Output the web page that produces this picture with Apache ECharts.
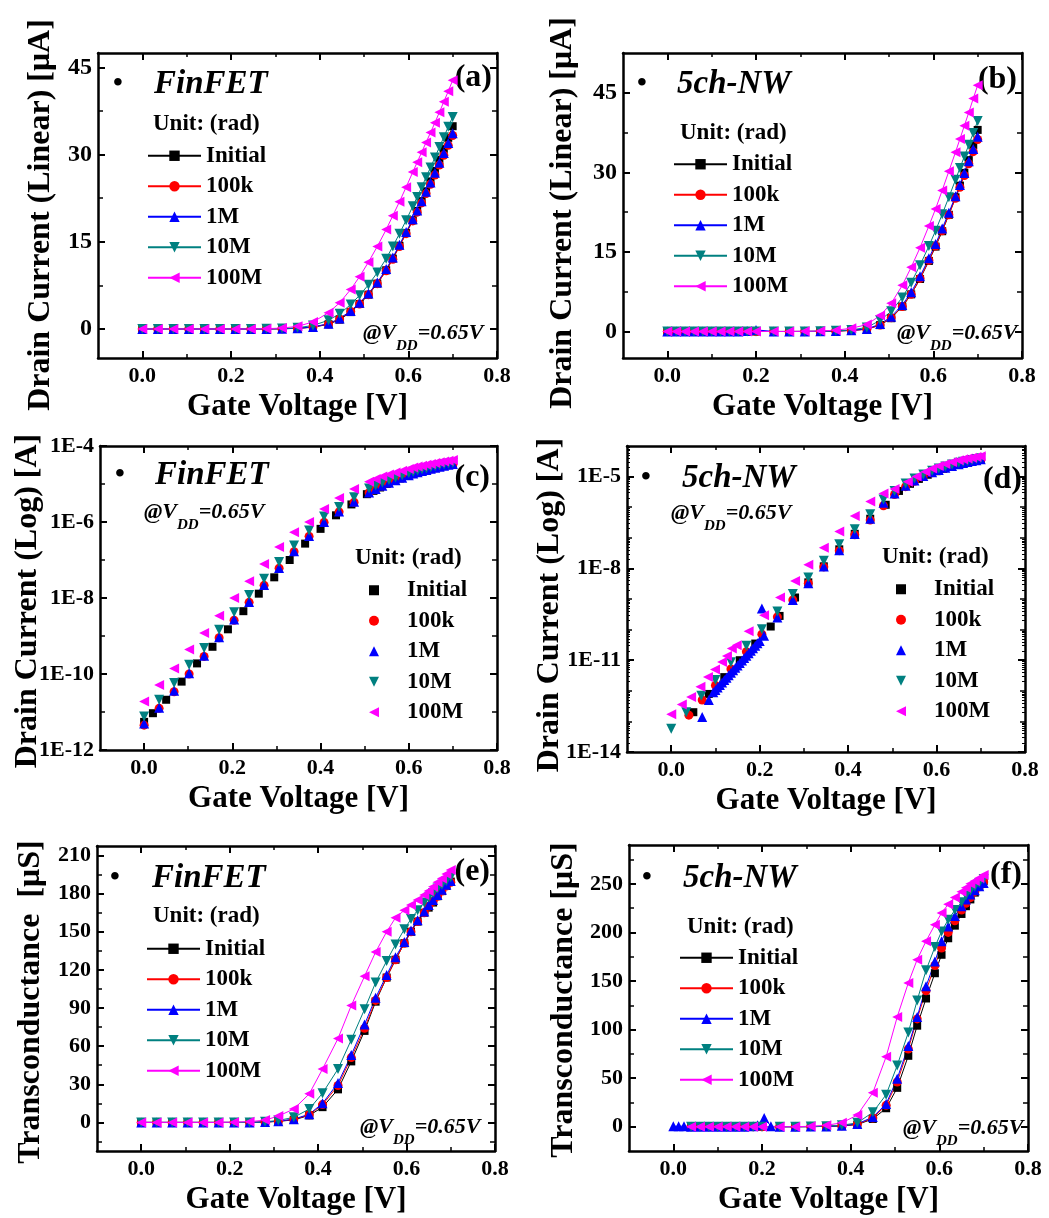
<!DOCTYPE html>
<html><head><meta charset="utf-8">
<script src="https://cdn.jsdelivr.net/npm/echarts@6/dist/echarts.min.js"></script>
<style>html,body{margin:0;padding:0;background:#fff}#c{width:1049px;height:1218px}</style>
</head><body><div id="c"></div>
<script>
// ---------- data ----------
const seriesNames = ['Initial','100k','1M','10M','100M'];
const xTicks = [0, 0.2, 0.4, 0.6, 0.8];
const xMinorTicks = [0.1, 0.3, 0.5, 0.7];
const aYTicks = [0, 15, 30, 45];
const aYMinor = [7.5, 22.5, 37.5];
const bYTicks = [0, 15, 30, 45];
const bYMinor = [7.5, 22.5, 37.5];
const cYTicks = [1e-12, 1e-10, 1e-8, 1e-6, 1e-4];
const cYMinor = [1e-11, 1e-9, 1e-7, 1e-5];
const dYTicks = [1e-14, 1e-11, 1e-8, 1e-5];
const dYMinor = [1e-13, 1e-12, 1e-10, 1e-9, 1e-7, 1e-6];
const dYDecades = [1e-14, 1e-13, 1e-12, 1e-11, 1e-10, 1e-9, 1e-8, 1e-7, 1e-6, 1e-5];
const dYSubSteps = [2, 3, 4, 5, 6, 7, 8, 9];
const eYTicks = [0, 30, 60, 90, 120, 150, 180, 210];
const eYMinor = [-15, 15, 45, 75, 105, 135, 165, 195];
const fYTicks = [0, 50, 100, 150, 200, 250];
const fYMinor = [25, 75, 125, 175, 225, 275];

// (a) FinFET, linear drain current [uA]
const xa = [0,0.035,0.07,0.105,0.14,0.175,0.21,0.245,0.28,0.315,0.35,0.385,0.42,0.445,0.47,0.49,0.51,0.53,0.55,0.565,0.58,0.595,0.61,0.62,0.63,0.64,0.65,0.66,0.67,0.68,0.69,0.70];
const aInitial = [0,0,0,0,0,0,0,0,0.01,0.04,0.1,0.3,0.8,1.6,2.9,4.3,5.9,7.8,10.1,12.1,14.3,16.5,18.7,20.3,22.0,23.7,25.4,27.2,29.1,31.0,32.9,34.9];
const a100k = [0,0,0,0,0,0,0,0,0.01,0.04,0.11,0.33,0.85,1.7,3.0,4.3,5.9,7.8,10.0,12.0,14.2,16.4,18.6,20.1,21.7,23.3,24.9,26.5,28.2,29.9,31.6,33.3];
const a1M = [0,0,0,0,0,0,0,0,0.01,0.04,0.11,0.35,0.9,1.8,3.1,4.5,6.1,8.0,10.3,12.3,14.5,16.7,18.9,20.4,22.0,23.6,25.2,26.9,28.6,30.3,32.0,33.7];
const a10M = [0,0,0,0,0,0,0,0,0.02,0.07,0.2,0.6,1.5,2.6,4.2,5.8,7.6,9.7,12.1,14.2,16.4,18.7,21.1,22.7,24.4,26.1,27.8,29.5,31.3,33.0,34.8,36.5];
const a100M = [0,0,0,0,0,0,0,0.01,0.05,0.15,0.45,1.2,2.8,4.5,6.8,9.0,11.5,14.2,17.1,19.5,21.9,24.4,27.0,28.7,30.4,32.1,33.8,35.5,37.3,39.1,40.9,42.8];

// (b) 5ch-NW, linear drain current [uA]
const xb = [0,0.02,0.04,0.06,0.08,0.10,0.12,0.14,0.16,0.18,0.20,0.24,0.275,0.31,0.345,0.38,0.415,0.45,0.48,0.505,0.53,0.55,0.57,0.59,0.605,0.62,0.635,0.65,0.66,0.67,0.68,0.69,0.70];
const bInitial = [0,0,0,0,0,0,0,0,0,0,0,0,0,0.01,0.03,0.08,0.2,0.45,1.2,2.5,4.7,7.0,9.9,13.3,16.0,18.9,22.0,25.3,27.5,29.9,32.3,35.1,38.0];
const b100k = [0,0,0,0,0,0,0,0,0,0,0,0,0,0.01,0.03,0.08,0.2,0.4,1.2,2.6,4.7,7.0,10.0,13.4,16.1,19.0,22.0,25.1,27.2,29.4,31.6,33.9,36.2];
const b1M = [0,0,0,0,0,0,0,0,0,0.1,0.3,0,0,0.01,0.03,0.09,0.22,0.45,1.4,2.8,5.0,7.4,10.4,13.8,16.5,19.4,22.4,25.5,27.6,29.9,32.1,34.4,36.7];
const b10M = [0,0,0,0,0,0,0,0,0,0,0,0,0,0.01,0.04,0.12,0.3,0.75,2.1,3.8,6.4,9.2,12.5,16.1,19.0,22.1,25.3,28.6,30.8,33.0,35.2,37.4,39.7];
const b100M = [0,0,0,0,0,0,0,0,0,0,0,0,0.01,0.03,0.08,0.25,0.6,1.3,3.0,5.3,8.7,12.1,15.8,19.9,23.1,26.6,30.2,33.8,36.3,38.8,41.3,43.9,46.4];

// (c) FinFET, log drain current [A]
const xcInitial = [0,0.02,0.05,0.085,0.12,0.155,0.19,0.225,0.26,0.295,0.33,0.365,0.40,0.435,0.47,0.505,0.52,0.535,0.55,0.565,0.58,0.595,0.61,0.625,0.64,0.655,0.67,0.685,0.70];
const cInitial = [5.5e-12,9.3e-12,2.1e-11,6.3e-11,1.9e-10,5.2e-10,1.5e-9,4.5e-9,1.3e-8,3.5e-8,1.0e-7,2.7e-7,6.6e-7,1.5e-6,2.9e-6,5.4e-6,6.6e-6,8.1e-6,1.0e-5,1.2e-5,1.4e-5,1.65e-5,1.87e-5,2.15e-5,2.37e-5,2.63e-5,2.91e-5,3.2e-5,3.49e-5];
const xc = [0,0.034,0.068,0.102,0.136,0.17,0.204,0.238,0.272,0.306,0.34,0.374,0.408,0.442,0.476,0.51,0.525,0.54,0.555,0.57,0.585,0.60,0.61,0.62,0.63,0.64,0.65,0.66,0.67,0.68,0.69,0.70];
const c100k = [4.5e-12,1.25e-11,3.4e-11,1.0e-10,2.9e-10,9.0e-10,2.6e-9,7.7e-9,2.15e-8,6.1e-8,1.65e-7,4.2e-7,9.8e-7,1.85e-6,3.3e-6,5.9e-6,7.3e-6,8.9e-6,1.06e-5,1.24e-5,1.45e-5,1.68e-5,1.86e-5,2.01e-5,2.17e-5,2.33e-5,2.49e-5,2.65e-5,2.82e-5,2.99e-5,3.16e-5,3.33e-5];
const c1M = [5.0e-12,1.3e-11,3.6e-11,1.05e-10,3.0e-10,9.3e-10,2.7e-9,7.9e-9,2.2e-8,6.2e-8,1.7e-7,4.3e-7,1.0e-6,1.9e-6,3.4e-6,6.0e-6,7.4e-6,9.0e-6,1.08e-5,1.26e-5,1.47e-5,1.70e-5,1.88e-5,2.03e-5,2.19e-5,2.35e-5,2.51e-5,2.68e-5,2.85e-5,3.02e-5,3.19e-5,3.36e-5];
const c10M = [7.6e-12,2.1e-11,5.8e-11,1.75e-10,4.8e-10,1.45e-9,4.2e-9,1.2e-8,3.2e-8,8.9e-8,2.4e-7,6.0e-7,1.4e-6,2.5e-6,4.5e-6,7.6e-6,9.2e-6,1.09e-5,1.27e-5,1.48e-5,1.70e-5,1.94e-5,2.11e-5,2.27e-5,2.44e-5,2.61e-5,2.78e-5,2.95e-5,3.13e-5,3.30e-5,3.48e-5,3.65e-5];
const c100M = [1.9e-11,5.1e-11,1.4e-10,4.4e-10,1.2e-9,3.4e-9,1.0e-8,2.75e-8,7.9e-8,2.2e-7,5.4e-7,1.0e-6,2.2e-6,4.3e-6,7.4e-6,1.15e-5,1.35e-5,1.57e-5,1.78e-5,2.0e-5,2.24e-5,2.5e-5,2.7e-5,2.87e-5,3.04e-5,3.21e-5,3.38e-5,3.55e-5,3.73e-5,3.91e-5,4.09e-5,4.28e-5];

// (d) 5ch-NW, log drain current [A]
const xdInitial = [0.05,0.085,0.12,0.155,0.19,0.225,0.245,0.28,0.31,0.345,0.38,0.415,0.45,0.485,0.515,0.54,0.56,0.58,0.60,0.615,0.63,0.645,0.66,0.675,0.69,0.70];
const dInitial = [2.0e-13,7.9e-13,2.8e-12,1.0e-11,3.5e-11,1.26e-10,2.8e-10,1.12e-9,3.5e-9,1.17e-8,4.2e-8,1.35e-7,4.2e-7,1.2e-6,3.4e-6,5.8e-6,8.4e-6,1.15e-5,1.5e-5,1.79e-5,2.1e-5,2.42e-5,2.75e-5,3.11e-5,3.51e-5,3.8e-5];
const xd100k = [0.04,0.07,0.1,0.135,0.17,0.205,0.24,0.275,0.31,0.345,0.38,0.415,0.45,0.48,0.505,0.53,0.55,0.57,0.59,0.605,0.62,0.635,0.65,0.66,0.67,0.68,0.69,0.70];
const d100k = [1.6e-13,5.0e-13,1.5e-12,5.2e-12,1.9e-11,7.1e-11,2.6e-10,9.3e-10,3.3e-9,1.12e-8,3.8e-8,1.26e-7,3.8e-7,1.12e-6,2.6e-6,4.7e-6,7.0e-6,1.0e-5,1.34e-5,1.61e-5,1.9e-5,2.2e-5,2.51e-5,2.72e-5,2.94e-5,3.16e-5,3.39e-5,3.62e-5];
const xd1M = [0.07,0.085,0.095,0.10,0.105,0.11,0.115,0.12,0.125,0.13,0.135,0.14,0.145,0.15,0.155,0.16,0.165,0.17,0.175,0.18,0.185,0.19,0.195,0.20,0.205,0.21,0.24,0.275,0.31,0.345,0.38,0.415,0.45,0.48,0.505,0.53,0.55,0.57,0.59,0.605,0.62,0.635,0.65,0.66,0.67,0.68,0.69,0.70];
const d1M = [1.38e-13,5.0e-13,8.9e-13,1.07e-12,1.29e-12,1.55e-12,1.86e-12,2.24e-12,2.69e-12,3.24e-12,3.89e-12,4.68e-12,5.62e-12,6.76e-12,8.13e-12,9.77e-12,1.17e-11,1.41e-11,1.70e-11,2.04e-11,2.45e-11,2.95e-11,3.55e-11,4.27e-11,4.9e-10,6.3e-11,2.5e-10,9.3e-10,3.3e-9,1.15e-8,3.9e-8,1.32e-7,4.2e-7,1.4e-6,2.8e-6,5.0e-6,7.4e-6,1.04e-5,1.38e-5,1.65e-5,1.94e-5,2.24e-5,2.55e-5,2.76e-5,2.99e-5,3.21e-5,3.44e-5,3.67e-5];
const xd10M = [0,0.034,0.068,0.10,0.135,0.17,0.205,0.24,0.275,0.31,0.345,0.38,0.415,0.45,0.48,0.505,0.53,0.55,0.57,0.59,0.605,0.62,0.635,0.65,0.66,0.67,0.68,0.69,0.70];
const d10M = [5.8e-14,2.0e-13,6.9e-13,2.24e-12,8.5e-12,2.95e-11,1.02e-10,3.9e-10,1.45e-9,5.0e-9,1.78e-8,6.2e-8,1.9e-7,5.9e-7,1.8e-6,3.4e-6,5.9e-6,8.6e-6,1.18e-5,1.54e-5,1.83e-5,2.14e-5,2.47e-5,2.81e-5,3.04e-5,3.26e-5,3.5e-5,3.73e-5,3.97e-5];
const xd100M = [0,0.024,0.045,0.066,0.083,0.099,0.115,0.126,0.137,0.148,0.175,0.21,0.246,0.28,0.31,0.345,0.38,0.415,0.45,0.48,0.505,0.535,0.555,0.575,0.59,0.605,0.62,0.635,0.65,0.66,0.67,0.68,0.69,0.70];
const d100M = [1.7e-13,3.6e-13,6.3e-13,1.35e-12,2.8e-12,5.0e-12,8.7e-12,1.38e-11,2.4e-11,3.1e-11,8.9e-11,2.95e-10,1.12e-9,3.9e-9,1.32e-8,4.7e-8,1.62e-7,5.2e-7,1.55e-6,2.8e-6,3.9e-6,6.8e-6,1.0e-5,1.45e-5,1.85e-5,2.2e-5,2.58e-5,2.98e-5,3.4e-5,3.69e-5,3.91e-5,4.15e-5,4.38e-5,4.62e-5];

// (e) FinFET, transconductance [uS]
const xe = [0,0.035,0.07,0.105,0.14,0.175,0.21,0.245,0.28,0.31,0.345,0.38,0.41,0.445,0.475,0.505,0.53,0.555,0.575,0.595,0.61,0.625,0.64,0.65,0.66,0.67,0.68,0.69,0.70];
const eInitial = [0,0,0,0,0,0,0,0,0.3,0.8,2,5.5,12,26,48,72,95,114,128,141,150,158,165,169,173,178,182,186,189.5];
const e100k = [0,0,0,0,0,0,0,0,0.3,0.9,2.3,6,14,29,51,74,96,114,128,141,150,158,165,170,174,178,182,186,189];
const e1M = [0,0,0,0,0,0,0,0,0.3,1.0,2.5,6.5,15,31,53,77,98,116,130,142,151,159,166,171,175,179,183,187,190];
const e10M = [0,0,0,0,0,0,0,0,0.5,1.5,4,10.5,23,42,65,89,110,127,140,152,160,167,173,177,180.5,184,187,190,193];
const e100M = [0,0,0,0,0,0,0.2,0.6,1.8,5,10.5,22.5,42,66,92,115,134,150,161,167,171,175,179,182,185.5,189,192,195.5,198.7];

// (f) 5ch-NW, transconductance [uS]
const xf = [0.04,0.06,0.08,0.10,0.12,0.14,0.16,0.18,0.20,0.24,0.275,0.31,0.345,0.38,0.415,0.45,0.48,0.505,0.53,0.55,0.57,0.59,0.605,0.62,0.635,0.65,0.66,0.67,0.68,0.69,0.70];
const fInitial = [0,0,0,0,0,0,0,0,0,0,0,0.1,0.3,0.8,2.2,8,19,40,73,104,132,158,177,194,207,219,227,234,241,247,253];
const f100k = [0,0,0,0,0,0,0,0,0,0,0,0.1,0.3,1,2.5,9,22,46,80,111,140,166,184,200,212,223,230,236,242,247,252];
const xf1M = [0,0.012,0.024,0.04,0.06,0.08,0.10,0.12,0.14,0.16,0.18,0.19,0.205,0.22,0.24,0.275,0.31,0.345,0.38,0.415,0.45,0.48,0.505,0.53,0.55,0.57,0.59,0.605,0.62,0.635,0.65,0.66,0.67,0.68,0.69,0.70];
const f1M = [0.5,0.5,0.5,0,0,0,0,0,0,0,0.5,1.5,9,0.5,0,0,0.1,0.3,1,2.8,10,23.5,49.5,83,113,144.5,170,191,206,217,227,234,239,243.5,247.5,251];
const f10M = [0,0,0,0,0,0,0,0,0,0,0,0.2,0.6,1.5,4,14.8,33,63,97,130,161,185,201,213,223,231,238,243,247,251,255];
const f100M = [0,0,0,0,0,0,0,0,0,0,0,0.5,1.5,4,12,35,72,113,148,172,191,208,220,229,236,242,246,250,253,256,259];

// ---------- styling / layout ----------
const FONT = "'Liberation Serif','Times New Roman',serif";
const colors = ['#000000','#ff0000','#0000ff','#008080','#ff00ff'];
const symbols = ['rect','circle','triangle','triangle','triangle'];
const rotates = [0,0,0,180,90];
const sizes = [8,9,10,10,10];
// legend icons for the marker-only (log) panels, same shapes as the markers
const legendIcons = ['rect','circle','triangle','path://M0,0L10,0L5,10Z','path://M0,5L10,0L10,10Z'];

// sub-decade tick values for panel (d) log axis
const dYSub = [];
dYDecades.forEach(d => dYSubSteps.forEach(s => dYSub.push(s * d)));

const panels = [
  {key:'a', device:'FinFET', yName:'Drain Current (Linear) [\u03bcA]', grid:[98,53,399,305], log:false, yMin:-5, yMax:47.5, yTicks:aYTicks, yMinor:aYMinor, yLabelSize:24, line:true,
   data:[[xa,aInitial],[xa,a100k],[xa,a1M],[xa,a10M],[xa,a100M]],
   legend:[147,143.5], unit:[153,124], bullet:[118,84], dev:[154,84], tag:[492,78], vdd:[363,338], yname:[41,215]},
  {key:'b', device:'5ch-NW', yName:'Drain Current (Linear) [\u03bcA]', grid:[623,53,399,305], log:false, yMin:-5, yMax:52.5, yTicks:bYTicks, yMinor:bYMinor, yLabelSize:24, line:true,
   data:[[xb,bInitial],[xb,b100k],[xb,b1M],[xb,b10M],[xb,b100M]],
   legend:[673,152], unit:[680,133], bullet:[642,84], dev:[677,84], tag:[1017,80], vdd:[897,338], yname:[563,213]},
  {key:'c', device:'FinFET', yName:'Drain Current (Log) [A]', grid:[100,446,397,304], log:true, yMin:1e-12, yMax:1e-4, yTicks:cYTicks, yMinor:cYMinor, yLabelSize:22, line:false,
   data:[[xcInitial,cInitial],[xc,c100k],[xc,c1M],[xc,c10M],[xc,c100M]],
   legend:[369,578], unit:[355,558], bullet:[120,475], dev:[155,475], tag:[490,478], vdd:[144,517], yname:[28,601]},
  {key:'d', device:'5ch-NW', yName:'Drain Current (Log) [A]', grid:[627,446,398,306], log:true, yMin:1e-14, yMax:1e-4, yTicks:dYTicks, yMinor:dYMinor, ySub:dYSub, yLabelSize:22, line:false,
   data:[[xdInitial,dInitial],[xd100k,d100k],[xd1M,d1M],[xd10M,d10M],[xd100M,d100M]],
   legend:[896,577], unit:[882,557], bullet:[646,478], dev:[682,478], tag:[1022,480], vdd:[671,518], yname:[550,605]},
  {key:'e', device:'FinFET', yName:'Transconductance  [\u03bcS]', grid:[97,846,398,305], log:false, yMin:-22.5, yMax:217.5, yTicks:eYTicks, yMinor:eYMinor, yLabelSize:22, line:true,
   data:[[xe,eInitial],[xe,e100k],[xe,e1M],[xe,e10M],[xe,e100M]],
   legend:[146,936.5], unit:[153,916], bullet:[115,878], dev:[152,878], tag:[490,872], vdd:[360,1132], yname:[31,1002]},
  {key:'f', device:'5ch-NW', yName:'Transconductance [\u03bcS]', grid:[629,845,399,306], log:false, yMin:-25, yMax:290, yTicks:fYTicks, yMinor:fYMinor, yLabelSize:22, line:true,
   data:[[xf,fInitial],[xf,f100k],[xf1M,f1M],[xf,f10M],[xf,f100M]],
   legend:[679,945.5], unit:[687,927], bullet:[647,878], dev:[683,878], tag:[1022,875], vdd:[903,1133], yname:[564,1000]}
];

const grids = [], xAxes = [], yAxes = [], series = [], legends = [], graphics = [];
const bold = {color:'#000', fontFamily:FONT, fontWeight:'bold'};
const axLine = {show:true, onZero:false, lineStyle:{color:'#000', width:2.5}};
const noLine = {show:false, onZero:false};
const tickOf = (v, len, w) => ({show:true, inside:true, length:len, lineStyle:{color:'#000', width:w}, customValues:v});
const txt = (x, y, text, o) => ({type:'text', silent:true, x, y, rotation:o.rotation || 0,
  style:Object.assign({text, fill:'#000', fontFamily:FONT, fontWeight:'bold', align:'left', verticalAlign:'middle'}, o.style)});

panels.forEach((p, i) => {
  grids.push({left:p.grid[0], top:p.grid[1], width:p.grid[2], height:p.grid[3]});
  const xIdx = xAxes.length, yIdx = yAxes.length;
  const xb0 = {gridIndex:i, type:'value', min:-0.1, max:0.8, splitLine:{show:false}};
  xAxes.push(
    Object.assign({}, xb0, {position:'bottom', axisLine:axLine, axisTick:tickOf(xTicks, 7, 2),
      axisLabel:Object.assign({customValues:xTicks, formatter:v => v.toFixed(1), margin:7, fontSize:22}, bold),
      name:'Gate Voltage [V]', nameLocation:'middle', nameGap:33, nameTextStyle:Object.assign({fontSize:31}, bold)}),
    Object.assign({}, xb0, {position:'bottom', axisLine:noLine, axisTick:tickOf(xMinorTicks, 4, 1.5), axisLabel:{show:false}}),
    Object.assign({}, xb0, {position:'top', axisLine:axLine, axisTick:tickOf(xTicks, 7, 2), axisLabel:{show:false}}),
    Object.assign({}, xb0, {position:'top', axisLine:noLine, axisTick:tickOf(xMinorTicks, 4, 1.5), axisLabel:{show:false}})
  );
  const yb0 = {gridIndex:i, type:p.log ? 'log' : 'value', min:p.yMin, max:p.yMax, splitLine:{show:false}};
  if (p.log) yb0.logBase = 10;
  const yFmt = p.log ? (v => '1E' + Math.round(Math.log10(v))) : (v => String(v));
  yAxes.push(
    Object.assign({}, yb0, {position:'left', axisLine:axLine, axisTick:tickOf(p.yTicks, 7, 2),
      axisLabel:Object.assign({customValues:p.yTicks, formatter:yFmt, margin:6, fontSize:p.yLabelSize}, bold)}),
    Object.assign({}, yb0, {position:'left', axisLine:noLine, axisTick:tickOf(p.yMinor, 5, 1.5), axisLabel:{show:false}}),
    Object.assign({}, yb0, {position:'right', axisLine:axLine, axisTick:tickOf(p.yTicks, 7, 2), axisLabel:{show:false}}),
    Object.assign({}, yb0, {position:'right', axisLine:noLine, axisTick:tickOf(p.yMinor, 5, 1.5), axisLabel:{show:false}})
  );
  if (p.ySub) {
    yAxes.push(
      Object.assign({}, yb0, {position:'left', axisLine:noLine, axisTick:tickOf(p.ySub, 3, 1), axisLabel:{show:false}}),
      Object.assign({}, yb0, {position:'right', axisLine:noLine, axisTick:tickOf(p.ySub, 3, 1), axisLabel:{show:false}})
    );
  }
  const tag = '\u200b'.repeat(i);
  p.data.forEach((pair, k) => {
    const xs = pair[0], ys = pair[1];
    series.push({
      name: seriesNames[k] + tag,
      type: p.line ? 'line' : 'scatter',
      xAxisIndex: xIdx, yAxisIndex: yIdx,
      data: xs.map((x, j) => [x, ys[j]]),
      symbol: symbols[k], symbolRotate: rotates[k], symbolSize: sizes[k],
      showAllSymbol: true,
      itemStyle: {color: colors[k], opacity: 1},
      lineStyle: {color: colors[k], width: 1},
      emphasis: {disabled: true},
      animation: false
    });
  });
  legends.push({
    orient:'vertical', left:p.legend[0], top:p.legend[1], padding:0, itemGap:6,
    itemWidth: p.line ? 53 : 10, itemHeight: p.line ? 13 : 10,
    data: seriesNames.map((n, k) => p.line ? (n + tag) : {name: n + tag, icon: legendIcons[k]}),
    formatter: n => n.replace(/\u200b/g, ''),
    selectedMode: false,
    textStyle: Object.assign({fontSize:23, lineHeight:24.5, padding: p.line ? 0 : [0, 0, 0, 23]}, bold)
  });
  graphics.push(
    txt(p.unit[0], p.unit[1], 'Unit: (rad)', {style:{fontSize:23}}),
    txt(p.bullet[0], p.bullet[1], '\u2022', {style:{fontSize:28, align:'center'}}),
    txt(p.dev[0], p.dev[1], p.device, {style:{fontSize:33, fontStyle:'italic'}}),
    txt(p.tag[0], p.tag[1], '(' + p.key + ')', {style:{fontSize:32, align:'right'}}),
    txt(p.vdd[0], p.vdd[1], '{m|@V}{s|DD}{m|=0.65V}', {style:{rich:{
      m:{fill:'#000', fontFamily:FONT, fontWeight:'bold', fontStyle:'italic', fontSize:22, lineHeight:22, verticalAlign:'top'},
      s:{fill:'#000', fontFamily:FONT, fontWeight:'bold', fontStyle:'italic', fontSize:15, lineHeight:32, verticalAlign:'bottom'}}}}),
    txt(p.yname[0], p.yname[1], p.yName, {rotation:Math.PI / 2, style:{fontSize:32, align:'center'}})
  );
});

const chart = echarts.init(document.getElementById('c'), null, {renderer:'canvas', width:1049, height:1218});
chart.setOption({
  animation:false,
  backgroundColor:'#ffffff',
  textStyle:{fontFamily:FONT},
  grid:grids, xAxis:xAxes, yAxis:yAxes, series:series, legend:legends, graphic:graphics
});
</script>
</body></html>
